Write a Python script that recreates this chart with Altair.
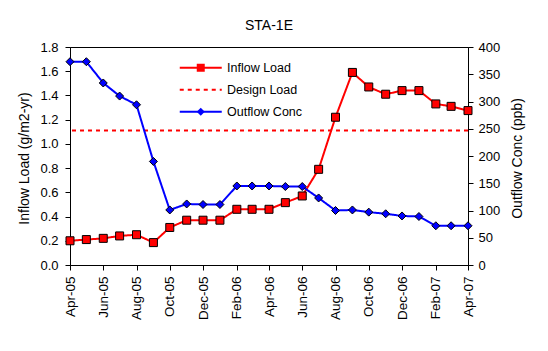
import altair as alt
import pandas as pd

# ---- data ----
months = ["2005-04", "2005-05", "2005-06", "2005-07", "2005-08", "2005-09", "2005-10",
          "2005-11", "2005-12", "2006-01", "2006-02", "2006-03", "2006-04", "2006-05",
          "2006-06", "2006-07", "2006-08", "2006-09", "2006-10", "2006-11", "2006-12",
          "2007-01", "2007-02", "2007-03", "2007-04"]
inflow_load = [0.20, 0.21, 0.22, 0.24, 0.25, 0.185, 0.31, 0.37, 0.37, 0.37, 0.46, 0.46,
               0.46, 0.515, 0.57, 0.79, 1.22, 1.59, 1.47, 1.41, 1.44, 1.44, 1.33, 1.31, 1.275]
outflow_conc = [373, 373, 334, 310, 294, 190, 101, 112, 111, 111, 145, 145, 145, 144,
                144, 123, 100, 101, 97, 94, 90, 89, 72, 72, 72]
design_load = [1.11]
series_names = ["Inflow Load", "Design Load", "Outflow Conc"]
marker_keys = ["square marker", "no marker", "diamond marker"]
left_ticks = [0.0, 0.2, 0.4, 0.6, 0.8, 1.0, 1.2, 1.4, 1.6, 1.8]
right_ticks = [0, 50, 100, 150, 200, 250, 300, 350, 400]
x_tick_months = [(2005, 4), (2005, 6), (2005, 8), (2005, 10), (2005, 12), (2006, 2),
                 (2006, 4), (2006, 6), (2006, 8), (2006, 10), (2006, 12), (2007, 2),
                 (2007, 4)]

dates = [m + "-01T00:00:00" for m in months]
df_in = pd.DataFrame({"date": dates, "value": inflow_load,
                      "series": series_names[0], "marker": marker_keys[0]})
df_out = pd.DataFrame({"date": dates, "value": outflow_conc,
                       "series": series_names[2], "marker": marker_keys[2]})
df_design = pd.DataFrame({"value": design_load, "series": series_names[1]})

FONT = "Liberation Sans"
RED = "#FF0000"
BLUE = "#0000FF"

x_enc = alt.X(
    "date:T",
    scale=alt.Scale(domain=[alt.DateTime(year=2005, month=4, date=1),
                            alt.DateTime(year=2007, month=4, date=1)], nice=False),
    axis=alt.Axis(title=None, format="%b-%y", labelAngle=270,
                  values=[alt.DateTime(year=y, month=m, date=1) for y, m in x_tick_months],
                  tickCount=len(x_tick_months) + 5, labelOverlap=False,
                  labelPadding=6, tickSize=5, labelFontSize=13.5),
)

left_scale = alt.Scale(domain=[0, 1.8], nice=False, zero=True)
right_scale = alt.Scale(domain=[0, 400], nice=False, zero=True)

left_axis = alt.Axis(title="Inflow Load (g/m2-yr)", values=left_ticks,
                     tickCount=len(left_ticks) + 5, format=".1f", orient="left",
                     titleAngle=270, titleX=-46, titleY=111, titleBaseline="middle",
                     titleAlign="center", labelPadding=7, tickSize=5, labelOverlap=False)
right_axis = alt.Axis(title="Outflow Conc (ppb)", values=right_ticks,
                      tickCount=len(right_ticks) + 5, format="d", orient="right",
                      titleAngle=270, titleX=49, titleY=111, titleBaseline="middle",
                      titleAlign="center", labelPadding=5, tickSize=5, labelOverlap=False)

color_scale = alt.Scale(domain=series_names, range=[RED, RED, BLUE])
dash_scale = alt.Scale(domain=series_names, range=[[1, 0], [4, 4], [1, 0]])
fill_scale = alt.Scale(domain=marker_keys, range=[RED, "transparent", BLUE])
shape_scale = alt.Scale(domain=marker_keys, range=["square", "M0,0", "diamond"])

LX, LY = 124.5, 14.5
leg_lines = alt.Legend(orient="none", legendX=LX, legendY=LY, title=None,
                       symbolType="M-5.25,0H5.25", symbolSize=64, symbolStrokeWidth=2,
                       labelFont=FONT, labelFontSize=12.5, labelColor="black",
                       labelOffset=20, rowPadding=9, padding=0, zindex=0)
leg_marks = alt.Legend(orient="none", legendX=LX, legendY=LY, title=None,
                       symbolSize=64, symbolStrokeColor="black", symbolStrokeWidth=1,
                       labelFont=FONT, labelFontSize=12.5, labelExpr="''",
                       labelOffset=20, rowPadding=9, padding=0, zindex=1)

color_enc = alt.Color("series:N", scale=color_scale, legend=leg_lines)
dash_enc = alt.StrokeDash("series:N", scale=dash_scale, legend=leg_lines)
fill_enc = alt.Fill("marker:N", scale=fill_scale, legend=leg_marks)
shape_enc = alt.Shape("marker:N", scale=shape_scale, legend=leg_marks)

y_left = alt.Y("value:Q", scale=left_scale, axis=left_axis)
y_right = alt.Y("value:Q", scale=right_scale, axis=right_axis)

design_rule = alt.Chart(df_design).mark_rule(strokeWidth=2).encode(
    y=y_left, color=color_enc, strokeDash=dash_enc,
)
red_line = alt.Chart(df_in).mark_line(strokeWidth=2).encode(
    x=x_enc, y=y_left, color=color_enc, strokeDash=dash_enc,
)
red_pts = alt.Chart(df_in).mark_point(filled=True, stroke="black", strokeWidth=1,
                                      size=64, opacity=1).encode(
    x=x_enc, y=y_left, fill=fill_enc, shape=shape_enc,
)
blue_line = alt.Chart(df_out).mark_line(strokeWidth=2).encode(
    x=x_enc, y=y_right, color=color_enc, strokeDash=dash_enc,
)
blue_pts = alt.Chart(df_out).mark_point(filled=True, stroke="black", strokeWidth=1,
                                        size=64, opacity=1).encode(
    x=x_enc, y=y_right, fill=fill_enc, shape=shape_enc,
)

left = alt.layer(design_rule, red_line, red_pts)
right = alt.layer(blue_line, blue_pts)

chart = alt.layer(left, right).resolve_scale(y="independent").properties(
    width=398,
    height=218,
    autosize=alt.AutoSizeParams(type="none"),
    padding={"left": 70, "top": 47, "right": 80, "bottom": 86},
    background="white",
    title=alt.TitleParams("STA-1E", font=FONT, fontSize=14, fontWeight="normal",
                          color="black", anchor="middle", frame="group",
                          baseline="alphabetic", offset=0, dy=3),
).configure_axis(
    labelFont=FONT, titleFont=FONT, labelFontSize=13, titleFontSize=14,
    titleFontWeight="normal", labelColor="black", titleColor="black",
    domainColor="black", tickColor="black", grid=False,
).configure_view(stroke="black", strokeWidth=1)

chart.save("out.html", embed_options={"renderer": "svg", "actions": False})
